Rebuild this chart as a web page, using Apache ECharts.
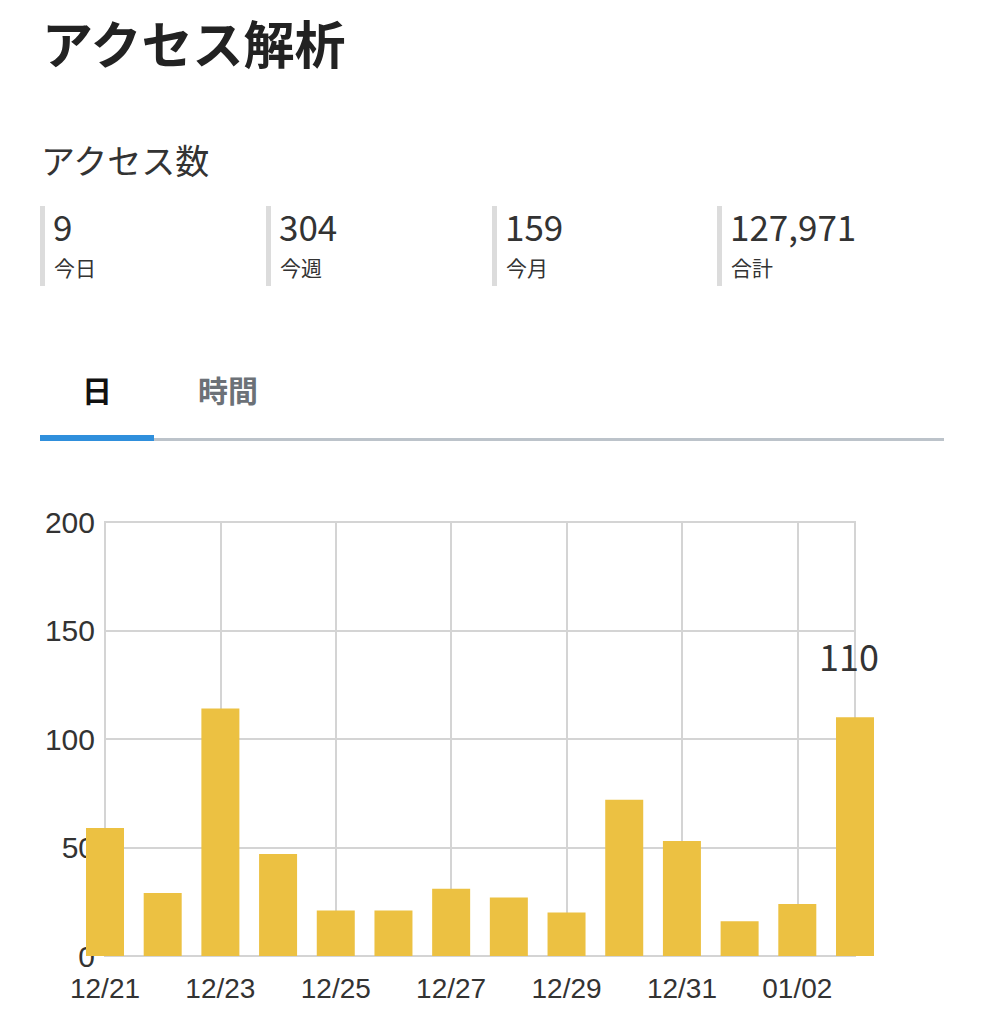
<!DOCTYPE html>
<html>
<head>
<meta charset="utf-8">
<script src="https://cdn.jsdelivr.net/npm/echarts@6/dist/echarts.min.js"></script>
<style>
  html, body { margin: 0; padding: 0; background: #fff; }
  body { width: 986px; height: 1024px; position: relative; overflow: hidden;
         font-family: "Noto Sans CJK JP", "Noto Sans", sans-serif; }
  #chart { position: absolute; left: 0; top: 0; width: 986px; height: 1024px; }
  .abs { position: absolute; line-height: 1; white-space: nowrap; z-index: 2; }
  .title { left: 42px; top: 17px; font-size: 51px; font-weight: bold; color: #222; }
  .sub { left: 41px; top: 143px; font-size: 34px; color: #333; }
  .stat-bar { position: absolute; width: 5px; top: 206px; height: 80px; background: #dcdcdc; z-index: 2; }
  .stat-num { font-size: 35px; color: #333; top: 208px; }
  .stat-lbl { font-size: 21px; color: #333; top: 257px; }
  .tab { font-size: 30px; font-weight: bold; top: 374px; }
  .line-gray { position: absolute; left: 40px; width: 904px; top: 438px; height: 3px; background: #bcc3ca; z-index: 2; }
  .line-blue { position: absolute; left: 40px; width: 114px; top: 435px; height: 6px; background: #2f8fdc; z-index: 3; }
</style>
</head>
<body>
<div id="chart"></div>
<div id="header"></div>
<script>
// ---- data ----
const pageTitle = "アクセス解析";
const subTitle = "アクセス数";
const statValues = ["9", "304", "159", "127,971"];
const statLabels = ["今日", "今週", "今月", "合計"];
const tabLabels = ["日", "時間"];
const categories = ["12/21","12/22","12/23","12/24","12/25","12/26","12/27","12/28","12/29","12/30","12/31","01/01","01/02","01/03"];
const accessCounts = [59, 29, 114, 47, 21, 21, 31, 27, 20, 72, 53, 16, 24, 110];
const yTicks = [0, 50, 100, 150, 200];

// ---- header (HTML text) ----
const header = document.getElementById('header');
function addEl(cls, text, style) {
  const d = document.createElement('div');
  d.className = cls;
  if (text !== null) d.textContent = text;
  Object.assign(d.style, style || {});
  header.appendChild(d);
  return d;
}
addEl('abs title', pageTitle);
addEl('abs sub', subTitle);
const statX = [40, 266, 492, 717];
statValues.forEach((v, i) => {
  addEl('stat-bar', null, { left: statX[i] + 'px' });
  addEl('abs stat-num', v, { left: (statX[i] + 13) + 'px' });
  addEl('abs stat-lbl', statLabels[i], { left: (statX[i] + 14) + 'px' });
});
addEl('abs tab', tabLabels[0], { left: '82px', color: '#111' });
addEl('abs tab', tabLabels[1], { left: '198px', color: '#6c7177' });
addEl('line-gray', null);
addEl('line-blue', null);

// ---- chart ----
const chart = echarts.init(document.getElementById('chart'), null, { renderer: 'svg' });
const gridColor = '#d4d4d4';
const axisFont = '"Liberation Sans", Arial, sans-serif';
const lastIdx = accessCounts.length - 1;
chart.setOption({
  animation: false,
  textStyle: { fontFamily: '"Noto Sans CJK JP", "Noto Sans", sans-serif' },
  grid: {
    left: 105, right: 131, top: 522, bottom: 68,
    show: true, borderColor: gridColor, borderWidth: 2, backgroundColor: 'transparent'
  },
  xAxis: {
    type: 'category',
    data: categories,
    boundaryGap: false,
    axisLine: { show: true, lineStyle: { color: gridColor, width: 2 } },
    axisTick: { show: false },
    axisLabel: { interval: 1, fontSize: 28, fontFamily: axisFont, color: '#333', margin: 18 },
    splitLine: { show: true, interval: 1, lineStyle: { color: gridColor, width: 2 } }
  },
  yAxis: {
    type: 'value',
    min: yTicks[0], max: yTicks[yTicks.length - 1], interval: 50,
    axisLine: { show: true, lineStyle: { color: gridColor, width: 2 } },
    axisTick: { show: false },
    axisLabel: { fontSize: 30, fontFamily: axisFont, color: '#333', margin: 10 },
    splitLine: { show: true, lineStyle: { color: gridColor, width: 2 } }
  },
  series: [{
    type: 'bar',
    barWidth: 38,
    itemStyle: { color: '#ECC142' },
    z: 3,
    data: accessCounts.map((v, i) => i === lastIdx
      ? { value: v, label: { show: true, position: 'top', distance: 44, offset: [-6, 0], fontSize: 36, color: '#333' } }
      : v)
  }]
});
</script>
</body>
</html>
